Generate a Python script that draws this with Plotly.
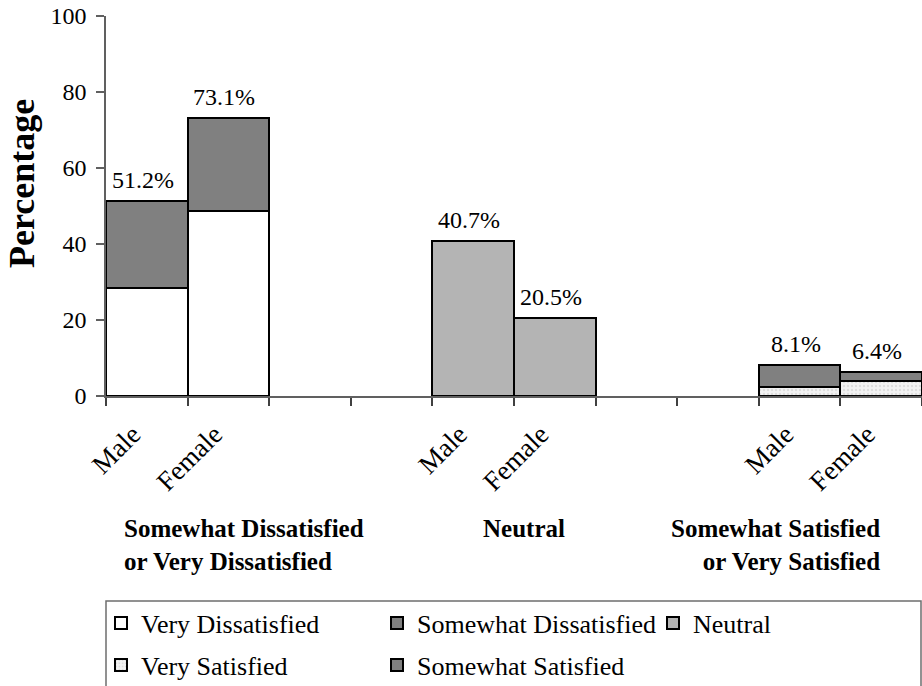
import plotly.graph_objects as go

# ---------------- data ----------------
groups = ["Somewhat Dissatisfied<br>or Very Dissatisfied", "Neutral",
          "Somewhat Satisfied<br>or Very Satisfied"]
genders = ["Male", "Female"]
very_dissatisfied = [28.4, 48.8]
somewhat_dissatisfied = [22.8, 24.3]
neutral = [40.7, 20.5]
very_satisfied = [2.3, 3.9]
somewhat_satisfied = [5.8, 2.5]
y_ticks = [0, 20, 40, 60, 80, 100]

# ---------------- layout helpers ----------------
FONT = "Liberation Serif"
W, H = 922, 686
ML, MR, MT, MB = 106, 0, 16, 290
PW, PH = W - ML - MR, H - MT - MB
SLOTS = 4  # slots per group (2 bars + 2 empty)


def px(xpix):
    return (xpix - ML) / PW


def py(ypix):
    return (MT + PH - ypix) / PH


def pos(g):
    return [g * SLOTS + i for i in range(len(genders))]


totals = [
    [a + b for a, b in zip(very_dissatisfied, somewhat_dissatisfied)],
    list(neutral),
    [a + b for a, b in zip(very_satisfied, somewhat_satisfied)],
]

line = dict(color="black", width=2)
fig = go.Figure()
fig.add_bar(x=pos(0), y=very_dissatisfied, name="Very Dissatisfied", width=1,
            marker=dict(color="white", line=line), legend="legend")
fig.add_bar(x=pos(0), y=somewhat_dissatisfied, name="Somewhat Dissatisfied", width=1,
            marker=dict(color="#808080", line=line), legend="legend")
fig.add_bar(x=pos(1), y=neutral, name="Neutral", width=1,
            marker=dict(color="#b4b4b4", line=line), legend="legend")
fig.add_bar(x=pos(2), y=very_satisfied, name="Very Satisfied", width=1,
            marker=dict(color="#ededed", line=line,
                        pattern=dict(shape=".", fgcolor="#c8c8c8", bgcolor="#f2f2f2",
                                     size=4, solidity=0.3)),
            legend="legend2")
fig.add_bar(x=pos(2), y=somewhat_satisfied, name="Somewhat Satisfied", width=1,
            marker=dict(color="#808080", line=line), legend="legend2")

annotations = []
# total value labels
for g in range(len(groups)):
    for xv, t in zip(pos(g), totals[g]):
        annotations.append(dict(x=xv, y=t, xref="x", yref="y", text=f"{t:.1f}%",
                                showarrow=False, yanchor="bottom", yshift=6, xshift=-4,
                                font=dict(family=FONT, size=24, color="black")))

# group labels
group_anchor = [("left", px(122)), ("center", px(524)), ("right", px(882))]
for (anc, xp), label in zip(group_anchor, groups):
    two_line = "<br>" in label
    annotations.append(dict(x=xp, y=py(545 if two_line else 528), xref="paper", yref="paper",
                            text=f"<b>{label}</b>", showarrow=False, xanchor=anc, align=anc,
                            yanchor="middle",
                            font=dict(family=FONT, size=25, color="black")))

# y axis title
annotations.append(dict(x=px(22), y=py(184), xref="paper", yref="paper",
                        text="<b>Percentage</b>", textangle=-90, showarrow=False,
                        xanchor="center", yanchor="middle",
                        font=dict(family=FONT, size=36, color="black")))

all_pos = [p for g in range(len(groups)) for p in pos(g)]
fig.update_layout(
    width=W, height=H,
    margin=dict(l=ML, r=MR, t=MT, b=MB, autoexpand=False),
    paper_bgcolor="white", plot_bgcolor="white",
    barmode="stack", bargap=0,
    font=dict(family=FONT, color="black"),
    annotations=annotations,
    xaxis=dict(range=[-0.5, max(all_pos) + 0.5], showgrid=False, zeroline=False,
               showline=True, linecolor="#606060", linewidth=1.5,
               tickmode="array", tickvals=all_pos, ticktext=genders * len(groups),
               ticks="", tickangle=-45, tickfont=dict(family=FONT, size=27, color="black"),
               ticklabelstandoff=10, ticklabelshift=-14,
               minor=dict(tick0=-0.5, dtick=1, ticks="outside", ticklen=8,
                          tickcolor="#404040", tickwidth=1.5, showgrid=False)),
    yaxis=dict(range=[0, 100], showgrid=False, zeroline=False,
               showline=True, linecolor="#606060", linewidth=1.5,
               tickmode="array", tickvals=y_ticks, ticks="outside", ticklen=8,
               tickcolor="#606060", tickwidth=1.5, ticklabelstandoff=5,
               tickfont=dict(family=FONT, size=24, color="black")),
    legend=dict(orientation="h", x=px(101), xanchor="left", y=py(623), yanchor="middle",
                entrywidth=231, entrywidthmode="pixels", bgcolor="rgba(0,0,0,0)",
                borderwidth=0, font=dict(family=FONT, size=26, color="black"),
                traceorder="normal"),
    legend2=dict(orientation="h", x=px(101), xanchor="left", y=py(665), yanchor="middle",
                 entrywidth=231, entrywidthmode="pixels", bgcolor="rgba(0,0,0,0)",
                 borderwidth=0, font=dict(family=FONT, size=26, color="black"),
                 traceorder="normal"),
    shapes=[dict(type="rect", xref="paper", yref="paper",
                 x0=px(106), x1=px(921), y0=py(601), y1=py(720),
                 line=dict(color="#6e6e6e", width=1.5), fillcolor="rgba(0,0,0,0)")],
)

fig.write_html("out.html",
               config={"displayModeBar": False},
               post_script="document.body.style.margin='0';document.body.style.overflow='hidden';")
